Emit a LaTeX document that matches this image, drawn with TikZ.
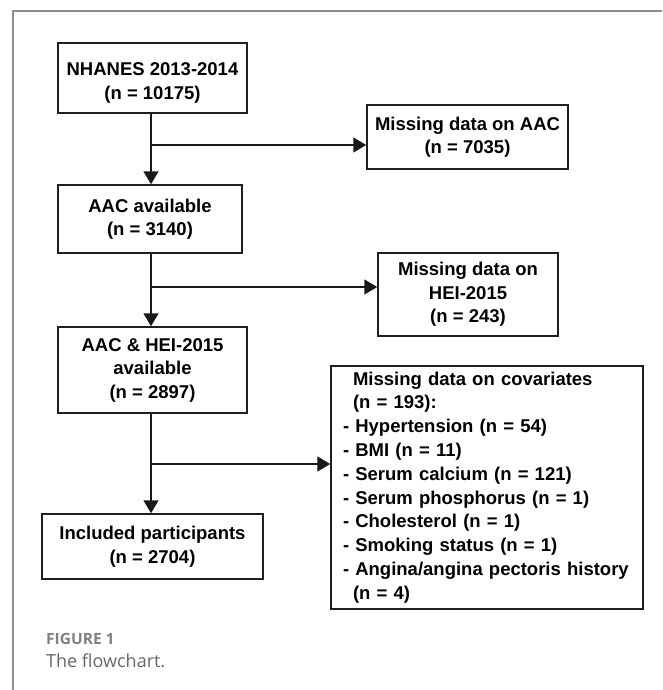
\documentclass[tikz,border=0pt]{standalone}
\usepackage{fontspec}
\setmainfont{Liberation Sans}
\newfontfamily\capfont{Open Sans}
\usetikzlibrary{arrows.meta}
\begin{document}
\begin{tikzpicture}[x=1pt,y=-1pt,
  box/.style={draw=black!88,line width=1.5pt,align=center,inner sep=0pt,
    font=\bfseries\fontsize{18.5}{23.5}\selectfont},
  arr/.style={line width=1.7pt,draw=black!90,-{Triangle[width=15pt,length=13pt]}},
  frame/.style={draw=black!45,line width=1.5pt},
  captitle/.style={anchor=west,inner sep=0pt,text=black!50,font=\capfont\bfseries\fontsize{15.5}{18}\selectfont},
  captext/.style={anchor=west,inner sep=0pt,text=black!60,font=\capfont\fontsize{18}{21}\selectfont}]
\useasboundingbox (0,0) rectangle (662,690);
\draw[frame] (13,690) -- (13,11) -- (662,11);
% main column
\node[box,minimum width=189pt,minimum height=70pt] (b1) at (152.5,78) {\rule{0pt}{23pt}NHANES 2013-2014\\(n = 10175)};
\node[box,minimum width=184pt,minimum height=68pt] (b2) at (150,219) {AAC available\\(n = 3140)};
\node[box,minimum width=189pt,minimum height=86pt] (b3) at (152.5,370) {AAC \& HEI-2015\\available\\(n = 2897)};
\node[box,minimum width=221pt,minimum height=65pt] (b4) at (152.5,546.5) {Included participants\\(n = 2704)};
% exclusion boxes
\node[box,minimum width=201pt,minimum height=64pt] (m1) at (467.5,137) {Missing data on AAC\\(n = 7035)};
\node[box,minimum width=180pt,minimum height=83pt] (m2) at (468,294.5) {Missing data on\\HEI-2015\\(n = 243)};
\node[box,align=left,text width=288pt,inner xsep=12pt,minimum height=243pt,
      font=\bfseries\fontsize{18.5}{23.8}\selectfont] (m3) at (487,487.5)
  {\hspace*{10pt}Missing data on covariates\\
   \hspace*{10pt}(n = 193):\\
   - Hypertension (n = 54)\\
   - BMI (n = 11)\\
   - Serum calcium (n = 121)\\
   - Serum phosphorus (n = 1)\\
   - Cholesterol (n = 1)\\
   - Smoking status (n = 1)\\
   - Angina/angina pectoris history\\
   \hspace*{10pt}(n = 4)};
% junctions
\coordinate (j1) at (151,145);
\coordinate (j2) at (151,287);
\coordinate (j3) at (151,464);
\draw[arr] (b1.south -| j1) -- (b2.north -| j1);
\draw[arr] (j1) -- (j1 -| m1.west);
\draw[arr] (b2.south -| j1) -- (b3.north -| j1);
\draw[arr] (j2) -- (j2 -| m2.west);
\draw[arr] (b3.south -| j1) -- (b4.north -| j1);
\draw[arr] (j3) -- (j3 -| m3.west);
% caption
\node[captitle] (fig) at (46,639) {FIGURE 1};
\node[captext] (cap) at (46,661) {The flowchart.};
\end{tikzpicture}
\end{document}
